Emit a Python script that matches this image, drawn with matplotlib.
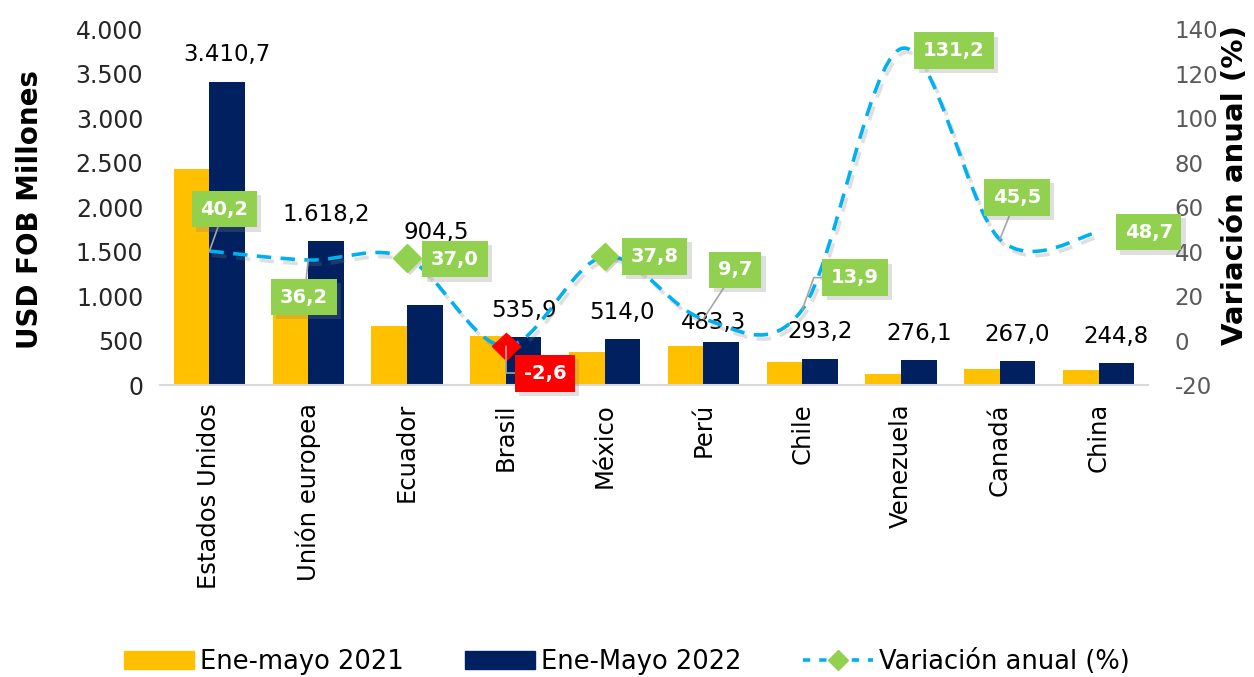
import numpy as np
import matplotlib
matplotlib.use("Agg")
import matplotlib.pyplot as plt
from matplotlib.path import Path
from matplotlib.patches import PathPatch, Patch
from matplotlib.lines import Line2D
import matplotlib.patheffects as pe

# data
paises = ["Estados Unidos", "Unión europea", "Ecuador", "Brasil", "México",
          "Perú", "Chile", "Venezuela", "Canadá", "China"]
ene_may_2021 = [2432.7, 1188.1, 660.2, 550.2, 373.0, 440.6, 257.4, 119.4, 183.5, 164.6]
ene_may_2022 = [3410.7, 1618.2, 904.5, 535.9, 514.0, 483.3, 293.2, 276.1, 267.0, 244.8]
variacion = [40.2, 36.2, 37.0, -2.6, 37.8, 9.7, 13.9, 131.2, 45.5, 48.7]

YELLOW = "#FFC000"
NAVY = "#002060"
BLUE = "#00B0F0"
GREEN = "#92D050"
RED = "#FF0000"

plt.rcParams["font.family"] = ["DejaVu Sans"]
plt.rcParams["axes.unicode_minus"] = False


def fmt(v):
    s = f"{v:,.1f}"
    return s.replace(",", "X").replace(".", ",").replace("X", ".")


def fmt_tick(v, pos=None):
    return f"{int(v):,}".replace(",", ".")


fig = plt.figure(figsize=(12.54, 6.77), dpi=100)
ax = fig.add_axes([0.1276, 0.4313, 0.9155 - 0.1276, 0.957 - 0.4313])
ax2 = ax.twinx()

x = np.arange(len(paises))
w = 0.36
ax.bar(x - w / 2, ene_may_2021, w, color=YELLOW, zorder=2)
ax.bar(x + w / 2, ene_may_2022, w, color=NAVY, zorder=2)

ax.set_xlim(-0.5, len(paises) - 0.5)
ax.set_ylim(0, 4000)
ax.set_yticks(np.arange(0, 4001, 500))
ax.yaxis.set_major_formatter(plt.FuncFormatter(fmt_tick))
ax.set_xticks(x)
ax.set_xticklabels(paises, rotation=90, va="top", ha="center")
ax.tick_params(axis="x", length=0, pad=13, labelsize=17.5, labelcolor="black")
ax.tick_params(axis="y", length=0, pad=12, labelsize=17, labelcolor="#262626")
for s in ["top", "right", "left"]:
    ax.spines[s].set_visible(False)
ax.spines["bottom"].set_color("#D9D9D9")
ax.spines["bottom"].set_linewidth(1.5)

# value labels above 2022 bars (px offsets)
lab_off = {2: (11, 72), 5: (-8, 20)}
for i, v in enumerate(ene_may_2022):
    dx, dy = lab_off.get(i, (0, 27))
    ax.annotate(fmt(v), (x[i] + w / 2, v), xytext=(dx * 0.72, dy * 0.72),
                textcoords="offset points", ha="center", va="center",
                fontsize=16.5, color="black", zorder=3)

# smoothed dashed line (Catmull-Rom style bezier through the values)
ax2.set_ylim(-20, 140)
ax2.set_yticks(np.arange(-20, 141, 20))
ax2.tick_params(axis="y", length=0, pad=19, labelsize=16.5, labelcolor="#595959")
for s in ax2.spines.values():
    s.set_visible(False)

P = np.column_stack([x, variacion]).astype(float)
Pext = np.vstack([P[0], P, P[-1]])
verts = [P[0]]
codes = [Path.MOVETO]
for i in range(len(P) - 1):
    p0, p1, p2, p3 = Pext[i], Pext[i + 1], Pext[i + 2], Pext[i + 3]
    verts += [p1 + (p2 - p0) / 6, p2 - (p3 - p1) / 6, p2]
    codes += [Path.CURVE4] * 3
curve = PathPatch(Path(verts, codes), fill=False, edgecolor=BLUE, lw=2.6,
                  linestyle=(0, (4, 2.6)), capstyle="butt", zorder=4)
curve.set_path_effects([pe.SimpleLineShadow(offset=(2, -3), shadow_color="gray", alpha=0.25),
                        pe.Normal()])
ax2.add_patch(curve)

# diamond markers
mk = {2: GREEN, 3: RED, 4: GREEN}
for i, c in mk.items():
    ax2.plot(x[i], variacion[i], marker="D", ms=14, color=c, zorder=5,
             path_effects=[pe.SimplePatchShadow(offset=(2, -2), alpha=0.2), pe.Normal()])

# variation labels: (dx, dy) px from point, leader style
box_off = {0: (15, 42, "line"), 1: (-4, -37, "line"), 2: (48, -1, None),
           3: (39, -27, "elbow"), 4: (50, 0, None), 5: (32, 49, "line"),
           6: (53, 32, "elbow2"), 7: (53, -2, None), 8: (17, 42, "line"),
           9: (50, 0, None)}
for i, v in enumerate(variacion):
    dx, dy, lead = box_off[i]
    fc = RED if v < 0 else GREEN
    ap = None
    if lead == "line":
        ap = dict(arrowstyle="-", color="#A6A6A6", lw=1.2, shrinkA=0, shrinkB=0)
    elif lead == "elbow":
        ap = dict(arrowstyle="-", color="#A6A6A6", lw=1.2, shrinkA=0, shrinkB=0,
                  connectionstyle="angle,angleA=0,angleB=90,rad=0")
    elif lead == "elbow2":
        ap = dict(arrowstyle="-", color="#A6A6A6", lw=1.2, shrinkA=0, shrinkB=0,
                  connectionstyle="angle,angleA=180,angleB=70,rad=0")
    t = ax2.annotate(fmt(v), (x[i], v), xytext=(dx * 0.72, dy * 0.72),
                     textcoords="offset points", ha="center", va="center",
                     fontsize=14, fontweight="bold", color="white", zorder=6,
                     bbox=dict(boxstyle="square,pad=0.45", fc=fc, ec="none"),
                     arrowprops=ap)
    t.get_bbox_patch().set_path_effects(
        [pe.SimplePatchShadow(offset=(3, -3), shadow_rgbFace="gray", alpha=0.25), pe.Normal()])

fig.text(0.024, 1 - 210 / 677, "USD FOB Millones", rotation=90, ha="center", va="center",
         fontsize=20, fontweight="bold")
fig.text(0.985, 1 - 185 / 677, "Variación anual (%)", rotation=90, ha="center", va="center",
         fontsize=21, fontweight="bold")

handles = [Patch(color=YELLOW), Patch(color=NAVY),
           Line2D([0], [0], color=BLUE, lw=2.6, ls=(0, (2, 2.5)), marker="D", ms=10,
                  markerfacecolor=GREEN, markeredgecolor=GREEN)]
fig.legend(handles, ["Ene-mayo 2021", "Ene-Mayo 2022", "Variación anual (%)"],
           loc="center", bbox_to_anchor=(0.5, 1 - 662 / 677), ncol=3, frameon=False,
           fontsize=18.5, handlelength=2.7, handleheight=0.7, handletextpad=0.25,
           columnspacing=2.4)

fig.savefig("out.png", dpi=100)
